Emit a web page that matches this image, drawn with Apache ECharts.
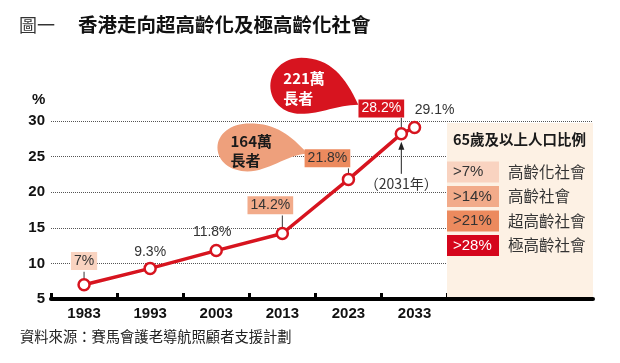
<!DOCTYPE html>
<html>
<head>
<meta charset="utf-8">
<script src="https://cdn.jsdelivr.net/npm/echarts@6/dist/echarts.min.js"></script>
<style>html,body{margin:0;padding:0;background:#fff;}#c{width:620px;height:363px;}</style>
</head>
<body>
<div id="c"></div>
<script>
// ---- data ----
const years = [1983, 1993, 2003, 2013, 2023, 2031, 2033];
const shares = [7, 9.3, 11.8, 14.2, 21.8, 28.2, 29.1];
const pointLabels = ['7%', '9.3%', '11.8%', '14.2%', '21.8%', '28.2%', '29.1%'];
const xTickYears = [1978, 1988, 1998, 2008, 2018, 2028, 2038];
const xLabelYears = [1983, 1993, 2003, 2013, 2023, 2033];
const legendThresholds = ['>7%', '>14%', '>21%', '>28%'];
const legendNames = ['高齡化社會', '高齡社會', '超高齡社會', '極高齡社會'];
const bubbleTexts = [['164萬', '長者'], ['221萬', '長者']];

// ---- styles ----
const RED = '#d7141f';
const C7 = '#f9d3c0', C14 = '#f2ab8a', C21 = '#ec8a5e', C28 = '#d5061c';
const FONT = '"Liberation Sans", Arial, "Noto Sans CJK TC", sans-serif';
const CJK = '"Noto Sans CJK TC", "Liberation Sans", sans-serif';
// label look per point: [background, text colour, distance, dx]
const labelLook = [
  [C7, '#333', 8, 0],
  [null, '#333', 1, 0],
  [null, '#333', 3.5, -4],
  [C14, '#333', 12.5, -12],
  [C21, '#333', 5.5, -21],
  [RED, '#fff', 9.5, -20],
  [null, '#333', 2.5, 20]
];

const chart = echarts.init(document.getElementById('c'), null, {renderer: 'canvas'});

const seriesData = years.map((y, i) => {
  const [bg, col, dist, dx] = labelLook[i];
  const lab = {
    show: true, position: 'top', distance: dist, offset: [dx, 0],
    formatter: pointLabels[i], color: col, fontSize: 14, fontFamily: FONT,
    lineHeight: 16
  };
  if (bg) { lab.backgroundColor = bg; lab.padding = [1, 3]; }
  return {value: [y, shares[i]], label: lab};
});

chart.setOption({
  animation: false,
  grid: {left: 51, right: 27, top: 121, bottom: 64},
  xAxis: {
    type: 'value', min: 1978, max: 2060,
    axisLine: {show: true, lineStyle: {color: '#000', width: 4}},
    axisTick: {show: true, inside: true, length: 6, lineStyle: {color: '#000', width: 3}, customValues: xTickYears},
    axisLabel: {customValues: xLabelYears, color: '#111', fontSize: 15, fontWeight: 'bold', fontFamily: FONT, margin: 7, formatter: v => String(v)},
    splitLine: {show: false}
  },
  yAxis: {
    type: 'value', min: 5, max: 30, interval: 5,
    axisLine: {show: false}, axisTick: {show: false},
    axisLabel: {color: '#111', fontSize: 15, fontWeight: 'bold', fontFamily: FONT, margin: 6},
    splitLine: {show: true, lineStyle: {color: '#555', type: 'dotted', width: 1}}
  },
  series: [{
    type: 'line', data: seriesData, z: 5,
    lineStyle: {color: RED, width: 3.5},
    symbol: 'circle', symbolSize: 11,
    itemStyle: {color: '#fff', borderColor: RED, borderWidth: 2.5}
  }]
});

function px(i) { return chart.convertToPixel({gridIndex: 0}, [years[i], shares[i]]); }

// sample a chain of cubic beziers into polygon points
function bezierPoly(start, segs, ox, oy) {
  const pts = [];
  let p0 = start;
  segs.forEach(([c1, c2, p3]) => {
    for (let k = 0; k < 16; k++) {
      const t = k / 16, u = 1 - t;
      const x = u*u*u*p0[0] + 3*u*u*t*c1[0] + 3*u*t*t*c2[0] + t*t*t*p3[0];
      const y = u*u*u*p0[1] + 3*u*u*t*c1[1] + 3*u*t*t*c2[1] + t*t*t*p3[1];
      pts.push([x + ox, y + oy]);
    }
    p0 = p3;
  });
  return pts;
}

function txt(x, y, text, font, fill, extra) {
  return Object.assign({type: 'text', x: x, y: y, z: 4,
    style: Object.assign({text: text, font: font, fill: fill, verticalAlign: 'middle'}, extra || {})});
}

const g = [];
// title
g.push(txt(19, 25, '圖一', 'normal 18px ' + CJK, '#333'));
g.push(txt(78, 25, '香港走向超高齡化及極高齡化社會', 'bold 19.5px ' + CJK, '#111'));
// source
g.push(txt(20, 337, '資料來源：賽馬會護老導航照顧者支援計劃', 'normal 14.3px ' + CJK, '#222'));
// % unit
g.push(txt(32, 100, '%', 'bold 15px ' + FONT, '#111'));

// connectors from label boxes to points
const connectors = [[0, 13], [3, 18], [4, 11], [5, 16]];
connectors.forEach(([i, up]) => {
  const [x, y] = px(i);
  g.push({type: 'line', z: 4, shape: {x1: x, y1: y - up, x2: x, y2: y - 5}, style: {stroke: '#333', lineWidth: 1}});
});

// 2031 arrow annotation
{
  const [x, y] = px(5);
  g.push({type: 'line', z: 4, shape: {x1: x, y1: y + 40, x2: x, y2: y + 12}, style: {stroke: '#222', lineWidth: 1}});
  g.push({type: 'polygon', z: 4, shape: {points: [[x, y + 8], [x - 3, y + 16], [x + 3, y + 16]]}, style: {fill: '#222'}});
  g.push(txt(x, y + 50, '（2031年）', 'normal 14px ' + CJK, '#333', {align: 'center'}));
}

// bubbles (anchored to the label boxes)
{
  const [x, y] = px(4); // 2023 point, ref (348,178)
  const ox = x - 348, oy = y - 178;
  const pts = bezierPoly([307, 152], [
    [[290, 134], [276, 122], [249, 122]],
    [[230, 122], [217, 133], [217, 146]],
    [[217, 160], [230, 170], [247, 170]],
    [[268, 170], [285, 154], [307, 152]]
  ], ox, oy);
  g.push({type: 'polygon', z: 3, shape: {points: pts}, style: {fill: '#eea07c'}});
  g.push(txt(230 + ox, 140 + oy, bubbleTexts[0][0], 'bold 15px ' + CJK, '#1a1a1a'));
  g.push(txt(230 + ox, 159 + oy, bubbleTexts[0][1], 'bold 15px ' + CJK, '#1a1a1a'));
}
{
  const [x, y] = px(5); // 2031 point, ref (401,133)
  const ox = x - 401, oy = y - 133;
  const pts = bezierPoly([358, 104], [
    [[345, 76], [330, 57], [301, 57]],
    [[283, 57], [270, 70], [270, 85]],
    [[270, 101], [283, 113], [300, 113]],
    [[322, 113], [336, 104], [358, 104]]
  ], ox, oy);
  g.push({type: 'polygon', z: 3, shape: {points: pts}, style: {fill: RED}});
  g.push(txt(283 + ox, 77 + oy, bubbleTexts[1][0], 'bold 15px ' + CJK, '#fff'));
  g.push(txt(283 + ox, 97 + oy, bubbleTexts[1][1], 'bold 15px ' + CJK, '#fff'));
}

// legend panel
g.push({type: 'rect', z: 1, shape: {x: 447, y: 123, width: 146, height: 174}, style: {fill: '#fdf1e4'}});
g.push(txt(453, 139, '65歲及以上人口比例', 'bold 14.5px ' + CJK, '#1a1a1a'));
const swCols = [C7, C14, C21, C28];
const swText = ['#333', '#333', '#333', '#fff'];
legendThresholds.forEach((t, i) => {
  const cy = 172 + i * 24.5;
  g.push({type: 'rect', z: 2, shape: {x: 447, y: cy - 10.5, width: 52, height: 21}, style: {fill: swCols[i]}});
  g.push(txt(453, cy, t, 'normal 15px ' + FONT, swText[i]));
  g.push(txt(508, cy, legendNames[i], 'normal 15.5px ' + CJK, '#333'));
});

chart.setOption({graphic: {elements: g}});
</script>
</body>
</html>
